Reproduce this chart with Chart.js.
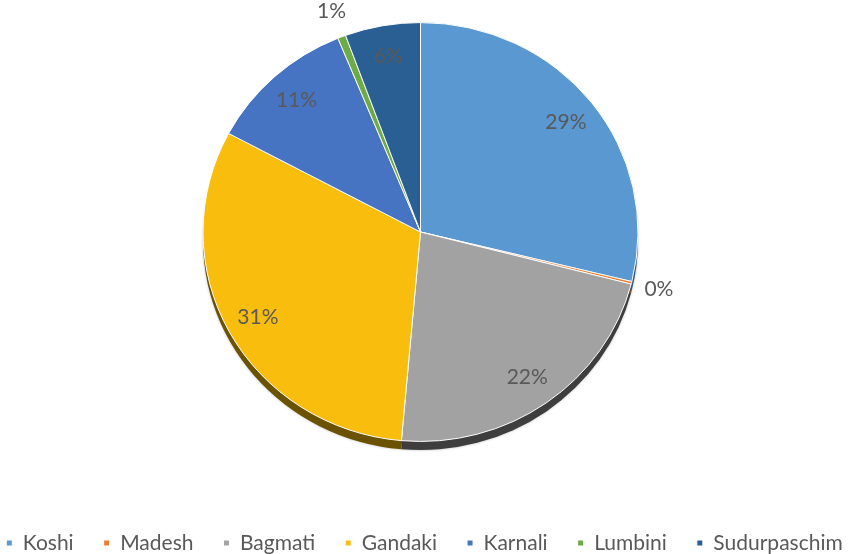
<!DOCTYPE html>
<html><head><meta charset="utf-8">
<script src="https://cdn.jsdelivr.net/npm/chart.js@4/dist/chart.umd.min.js"></script>
<style>html,body{margin:0;padding:0;background:#fff;overflow:hidden;width:851px;height:554px;position:relative}canvas{display:block;position:absolute;left:-30px;top:0}</style>
</head><body>
<canvas id="c" width="901" height="554"></canvas>
<script>
const categories = ['Koshi','Madesh','Bagmati','Gandaki','Karnali','Lumbini','Sudurpaschim'];
const shares = [28.8, 0.2, 22.4, 31.4, 11.0, 0.6, 5.6];
const sliceColors = ['#5A98D1','#ED7D31','#A2A2A2','#F9BD0D','#4773C3','#6DAB47','#2A5F93'];
const sideColors = ['#2f5a80','#8a4a1d','#3e3e3e','#6b5200','#2a4577','#40662a','#173a5a'];

const PIE_RADIUS = 217.5, Y_SCALE = 0.963, DEPTH = 9;

function arcProps(arc){
  return arc.getProps(['x','y','startAngle','endAngle','outerRadius'], true);
}

const pieTilt = {
  id: 'pieTilt',
  beforeDatasetsDraw(chart) {
    const ctx = chart.ctx;
    const meta = chart.getDatasetMeta(0);
    const p0 = arcProps(meta.data[0]);
    const cx = p0.x, cy = p0.y;
    ctx.save();
    ctx.translate(cx, cy); ctx.scale(1, Y_SCALE); ctx.translate(-cx, -cy);
    ctx.save();
    ctx.shadowColor = 'rgba(0,0,0,0.25)';
    ctx.shadowBlur = 3;
    meta.data.forEach((arc, i) => {
      const {x, y, startAngle, endAngle, outerRadius} = arcProps(arc);
      ctx.beginPath();
      ctx.moveTo(x, y + DEPTH);
      ctx.arc(x, y + DEPTH, outerRadius, startAngle, endAngle);
      ctx.closePath();
      ctx.fillStyle = sideColors[i];
      ctx.fill();
    });
    ctx.restore();
  },
  afterDatasetsDraw(chart) {
    const ctx = chart.ctx;
    ctx.restore();
    const meta = chart.getDatasetMeta(0);
    const total = shares.reduce((a, b) => a + b, 0);
    ctx.save();
    ctx.font = '21px Lato';
    ctx.fillStyle = '#595959';
    ctx.textAlign = 'center';
    ctx.textBaseline = 'middle';
    meta.data.forEach((arc, i) => {
      const {x, y, startAngle, endAngle, outerRadius} = arcProps(arc);
      const mid = (startAngle + endAngle) / 2;
      const pct = shares[i] / total * 100;
      const f = pct < 2 ? 1.13 : 0.85;
      const lx = x + Math.cos(mid) * outerRadius * f;
      const ly = y + Math.sin(mid) * outerRadius * f * Y_SCALE;
      ctx.fillText(Math.round(pct) + '%', lx, ly);
    });
    ctx.restore();
  }
};

function draw(){
  new Chart(document.getElementById('c'), {
    type: 'pie',
    data: {
      labels: categories,
      datasets: [{
        data: shares,
        backgroundColor: sliceColors,
        borderColor: '#ffffff',
        borderWidth: 1,
        radius: PIE_RADIUS,
        clip: false
      }]
    },
    options: {
      responsive: false,
      animation: false,
      layout: { padding: { left: 0, right: -8, top: 14, bottom: -9.5 } },
      plugins: {
        legend: {
          position: 'bottom',
          labels: { boxWidth: 6, boxHeight: 6, padding: 30, color: '#595959', font: { family: 'Lato', size: 21 } },
          title: { display: true, text: '', padding: { top: 38.1, bottom: 0 } }
        },
        tooltip: { enabled: false }
      }
    },
    plugins: [pieTilt]
  });
}
if (document.fonts && document.fonts.load) {
  document.fonts.load('21px Lato').then(draw, draw);
} else { draw(); }
</script>
</body></html>
